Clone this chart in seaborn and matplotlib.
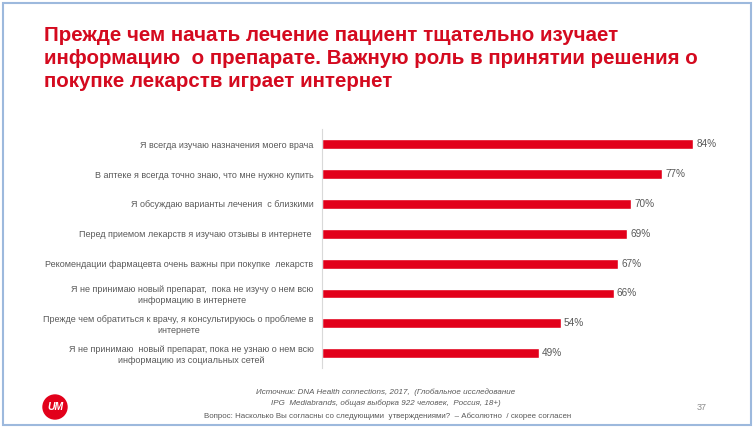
import matplotlib
matplotlib.use('Agg')
import matplotlib.pyplot as plt
import seaborn as sns
import pandas as pd
from matplotlib.patches import Rectangle, Circle

# Data
statements = [
    'Я всегда изучаю назначения моего врача',
    'В аптеке я всегда точно знаю, что мне нужно купить',
    'Я обсуждаю варианты лечения  с близкими',
    'Перед приемом лекарств я изучаю отзывы в интернете ',
    'Рекомендации фармацевта очень важны при покупке  лекарств',
    'Я не принимаю новый препарат,  пока не изучу о нем всю\nинформацию в интернете',
    'Прежде чем обратиться к врачу, я консультируюсь о проблеме в\nинтернете',
    'Я не принимаю  новый препарат, пока не узнаю о нем всю\nинформацию из социальных сетей',
]
shares = [84, 77, 70, 69, 67, 66, 54, 49]

title = ('Прежде чем начать лечение пациент тщательно изучает\n'
         'информацию  о препарате. Важную роль в принятии решения о\n'
         'покупке лекарств играет интернет')
source = ['Источник: DNA Health connections, 2017,  (Глобальное исследование',
          'IPG  Mediabrands, общая выборка 922 человек,  Россия, 18+)']
question = 'Вопрос: Насколько Вы согласны со следующими  утверждениями?  – Абсолютно  / скорее согласен'

df = pd.DataFrame({'statement': statements, 'share': shares})

sns.set_theme(style='white')
plt.rcParams['font.family'] = ['Liberation Sans', 'DejaVu Sans']

red = '#E2001A'
title_red = '#D40A1F'
grey = '#595959'

fig = plt.figure(figsize=(7.54, 4.28), dpi=100)

# slide frame
fig.patches.append(Rectangle((0.004, 0.008), 0.992, 0.986, transform=fig.transFigure,
                             fill=False, edgecolor='#9DB9DD', linewidth=1.5))

ax = fig.add_axes([0.427, 0.140, 0.557, 0.558])
sns.barplot(data=df, x='share', y='statement', orient='h', color=red,
            width=0.33, saturation=1, ax=ax)
ax.set_xlim(0, 95)
ax.set_ylim(7.5, -0.5)
ax.set_xlabel('')
ax.set_ylabel('')
ax.set_xticks([])
for side in ['top', 'right', 'bottom']:
    ax.spines[side].set_visible(False)
ax.spines['left'].set_color('#D9D9D9')
ax.spines['left'].set_linewidth(0.8)
ax.tick_params(axis='y', length=0, pad=6, labelsize=6.5, labelcolor=grey)
for lbl in ax.get_yticklabels():
    lbl.set_horizontalalignment('right')
    lbl.set_multialignment('center')

for i, v in enumerate(shares):
    ax.text(v + 0.7, i, f'{v}%', va='center', ha='left', fontsize=7.2, color=grey)

fig.text(0.058, 0.940, title, ha='left', va='top', fontsize=14.8, fontweight='bold',
         color=title_red, linespacing=1.27)

# footer
fig.text(0.512, 0.084, source[0], ha='center', va='center', fontsize=5.8,
         style='italic', color=grey)
fig.text(0.512, 0.057, source[1], ha='center', va='center', fontsize=5.8,
         style='italic', color=grey)
fig.text(0.514, 0.027, question, ha='center', va='center', fontsize=5.65, color=grey)
fig.text(0.931, 0.047, '37', ha='center', va='center', fontsize=6.5, color='#8C8C8C')

logo = Circle((55, 21), 12, transform=None, color=red)
fig.patches.append(logo)
fig.text(55 / 754, 21 / 428, 'UM', ha='center', va='center', fontsize=7.5,
         fontweight='bold', style='italic', color='white')

fig.savefig('out.png', dpi=100)
